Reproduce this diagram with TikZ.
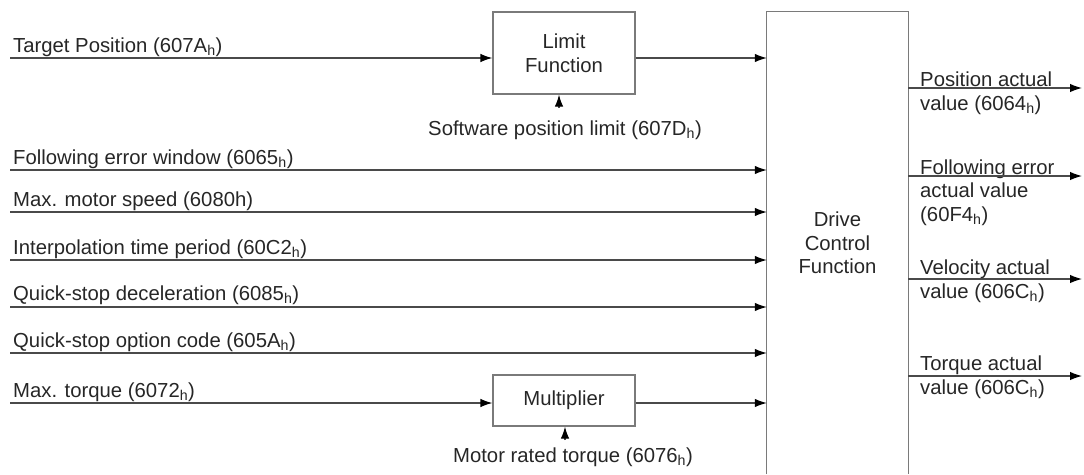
\documentclass[tikz,border=0pt]{standalone}
\usepackage{fontspec}
\setmainfont{Liberation Sans}
\usetikzlibrary{arrows.meta}
\definecolor{ink}{HTML}{262626}
\definecolor{wire}{HTML}{4A4A4A}
\definecolor{frame}{HTML}{7A7A7A}
\newcommand{\hsub}{\textsubscript{h}}
\begin{document}
\begin{tikzpicture}[x=1pt,y=-1pt,
  font=\fontsize{20.3}{23.5}\selectfont, text=ink,
  sig/.style={draw=wire, line width=1.2pt, -{Latex[length=12pt,width=8.5pt,color=black]}},
  fbox/.style={draw=frame, line width=1.2pt, minimum width=142pt, align=center, inner sep=0pt},
  lbl/.style={anchor=base west, inner sep=0pt},
  olbl/.style={anchor=base west, inner sep=0pt, align=left},
  clbl/.style={anchor=base, inner sep=0pt}]
\useasboundingbox (0,0) rectangle (1084,474);

% function blocks
\node[fbox, minimum height=82pt] (lim) at (564,53) {Limit\\Function};
\node[fbox, minimum height=51pt] (mul) at (564,400.5) {Multiplier};
\node[minimum width=141pt, minimum height=462pt, inner sep=0pt, align=center] (dcf) at (837.5,243) {Drive\\Control\\Function};
\draw[frame, line width=1.2pt] (dcf.south west) -- (dcf.north west) -- (dcf.north east) -- (dcf.south east);

% input signals
\coordinate (tp)  at (10,58);
\coordinate (few) at (10,170);
\coordinate (mms) at (10,212);
\coordinate (itp) at (10,260);
\coordinate (qsd) at (10,307);
\coordinate (qso) at (10,353);
\coordinate (mt)  at (10,403);
\coordinate (swl) at (559,108);
\coordinate (mrt) at (565,440);

\node[lbl] (tpl)  at (13,52)  {Target Position (607A\hsub)};
\node[lbl] (fewl) at (13,164) {Following error window (6065\hsub)};
\node[lbl] (mmsl) at (13,206) {Max. motor speed (6080h)};
\node[lbl] (itpl) at (13,254) {Interpolation time period (60C2\hsub)};
\node[lbl] (qsdl) at (13,300) {Quick-stop deceleration (6085\hsub)};
\node[lbl] (qsol) at (13,347) {Quick-stop option code (605A\hsub)};
\node[lbl] (mtl)  at (13,397) {Max. torque (6072\hsub)};
\node[clbl] (swll) at (565,135) {Software position limit (607D\hsub)};
\node[clbl] (mrtl) at (573,462) {Motor rated torque (6076\hsub)};

\draw[sig] (tp) -- (tp -| lim.west);
\draw[sig] (lim.east |- tp) -- (tp -| dcf.west);
\draw[sig] (swl) -- (swl |- lim.south);
\draw[sig] (few) -- (few -| dcf.west);
\draw[sig] (mms) -- (mms -| dcf.west);
\draw[sig] (itp) -- (itp -| dcf.west);
\draw[sig] (qsd) -- (qsd -| dcf.west);
\draw[sig] (qso) -- (qso -| dcf.west);
\draw[sig] (mt) -- (mt -| mul.west);
\draw[sig] (mul.east |- mt) -- (mt -| dcf.west);
\draw[sig] (mrt) -- (mrt |- mul.south);

% output signals
\coordinate (pav) at (1082,88);
\coordinate (fea) at (1082,176);
\coordinate (vav) at (1082,279);
\coordinate (tav) at (1082,376);

% multi-line labels: the base anchor sits on the last line
\node[olbl] (pavl) at (920,110) {Position actual\\value (6064\hsub)};
\node[olbl] (feal) at (920,221) {Following error\\actual value\\(60F4\hsub)};
\node[olbl] (vavl) at (920,298) {Velocity actual\\value (606C\hsub)};
\node[olbl] (tavl) at (920,394) {Torque actual\\value (606C\hsub)};

\draw[sig] (pav -| dcf.east) -- (pav);
\draw[sig] (fea -| dcf.east) -- (fea);
\draw[sig] (vav -| dcf.east) -- (vav);
\draw[sig] (tav -| dcf.east) -- (tav);
\end{tikzpicture}
\end{document}
